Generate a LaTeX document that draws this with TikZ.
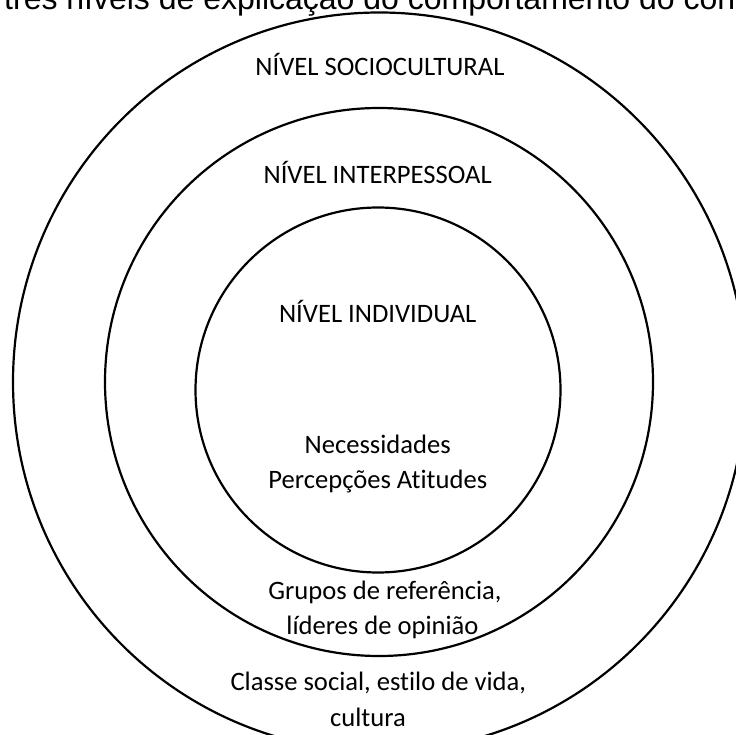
\documentclass[tikz,border=0pt]{standalone}
\usepackage{fontspec}
\setmainfont[Ligatures=NoCommon]{Carlito}
\newfontfamily\titlefont{Liberation Sans}
\begin{document}
\begin{tikzpicture}[x=1pt,y=-1pt,
  ring/.style={draw=black,line width=2.2pt},
  lbl/.style={anchor=base,inner sep=0pt,font=\fontsize{26.6}{30}\selectfont}]
\useasboundingbox (0,0) rectangle (736,735);
\clip (0,0) rectangle (736,735);
\node[anchor=base west,inner sep=0pt,font=\titlefont\fontsize{32}{36}\selectfont] (title) at (4,10) {três níveis de explicação do comportamento do consumidor};
\coordinate (c0) at (379.5,382);
\coordinate (c1) at (379,382);
\coordinate (c2) at (378,390);
\draw[ring] (c0) ellipse [x radius=366.5, y radius=369.5];
\draw[ring] (c1) circle [radius=274];
\draw[ring] (c2) circle [radius=182.5];
\node[lbl] (soc) at (380,75.7) {NÍVEL SOCIOCULTURAL};
\node[lbl] (inter) at (377.7,183.3) {NÍVEL INTERPESSOAL};
\node[lbl] (ind) at (377.7,322.7) {NÍVEL INDIVIDUAL};
\node[lbl] (nec) at (377.7,453.3) {Necessidades};
\node[lbl] (perc) at (377.8,488.3) {Percepções Atitudes};
\node[lbl] (grp) at (385,599.3) {Grupos de referência,};
\node[lbl] (lid) at (382.5,634) {líderes de opinião};
\node[lbl] (cls) at (378.3,690.7) {Classe social, estilo de vida,};
\node[lbl] (cult) at (368,726) {cultura};
\end{tikzpicture}
\end{document}
